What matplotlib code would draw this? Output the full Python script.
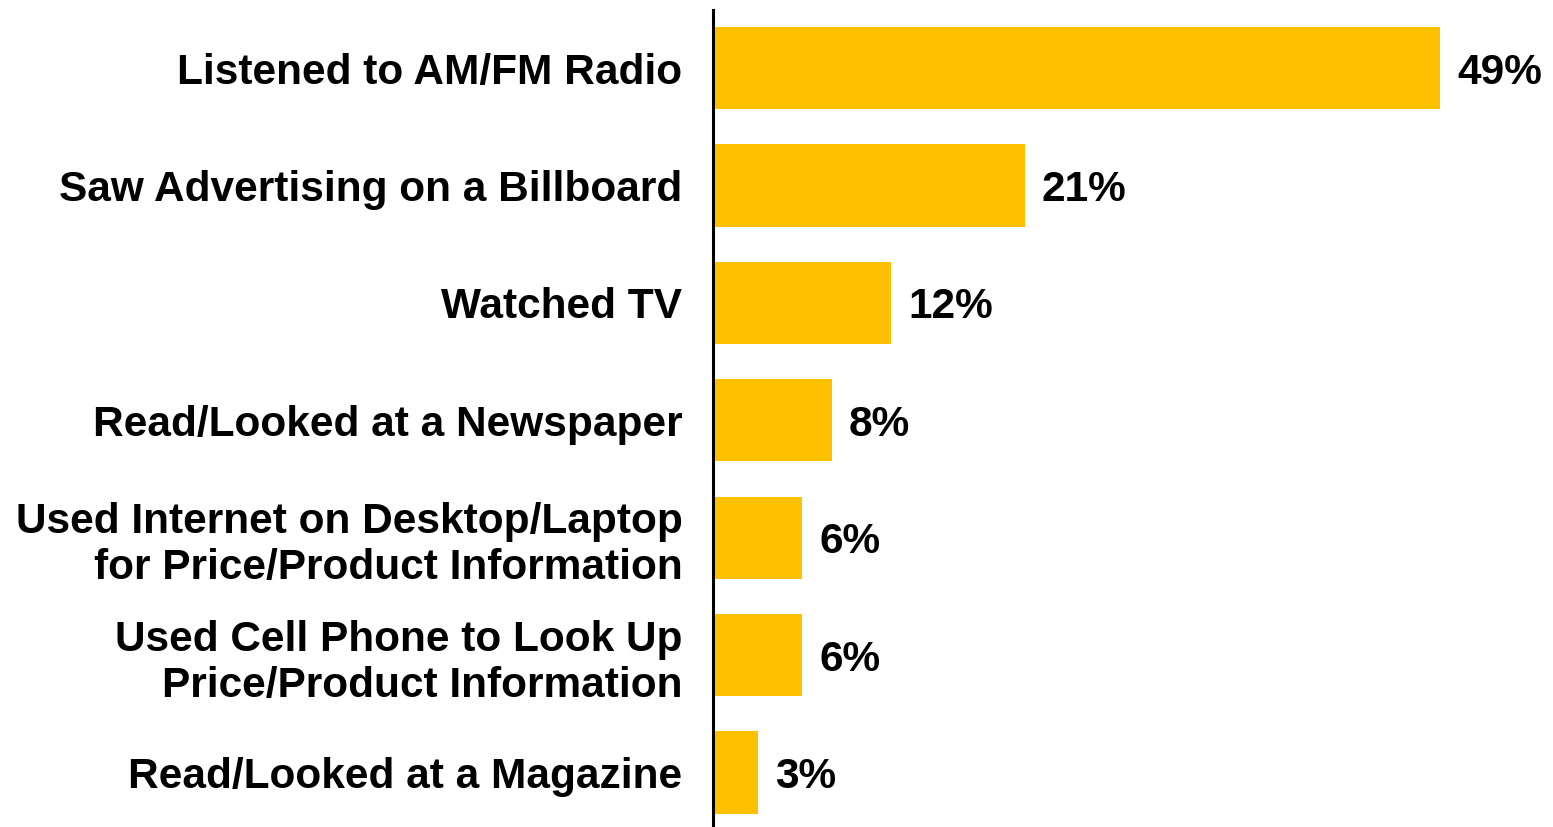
import matplotlib
matplotlib.use("Agg")
import matplotlib.pyplot as plt

plt.rcParams['font.family'] = ['Liberation Sans', 'DejaVu Sans']

# ─── Data ────────────────────────────────────────
categories = [
    "Listened to AM/FM Radio",
    "Saw Advertising on a Billboard",
    "Watched TV",
    "Read/Looked at a Newspaper",
    "Used Internet on Desktop/Laptop\nfor Price/Product Information",
    "Used Cell Phone to Look Up\nPrice/Product Information",
    "Read/Looked at a Magazine",
]
values = [49, 21, 12, 8, 6, 6, 3]

BAR_COLOR = "#FFC000"
FS = 30.5

# ─── Plot ────────────────────────────────────────
fig = plt.figure(figsize=(15.53, 8.27), dpi=100)
ax = fig.add_axes([713 / 1553, 0.0, 840 / 1553, 1 - 10 / 827])

ypos = list(range(len(categories)))
ax.barh(ypos, values, height=0.70, color=BAR_COLOR, left=0)

for y, v in zip(ypos, values):
    ax.text(v + 1.15, y, f"{v}%", va="center_baseline", ha="left",
            fontsize=FS, fontweight="bold", color="black")

ax.set_yticks(ypos)
ax.set_yticklabels(categories, fontsize=FS, fontweight="bold",
                   linespacing=1.2)
ax.tick_params(axis="y", length=0, pad=22)
ax.set_xticks([])

ax.set_xlim(0, 840 / 14.84)
ax.set_ylim(6.464, -0.494)

for side in ["top", "right", "bottom"]:
    ax.spines[side].set_visible(False)
ax.spines["left"].set_linewidth(2.2)
ax.spines["left"].set_color("black")

fig.savefig("out.png", dpi=100)
